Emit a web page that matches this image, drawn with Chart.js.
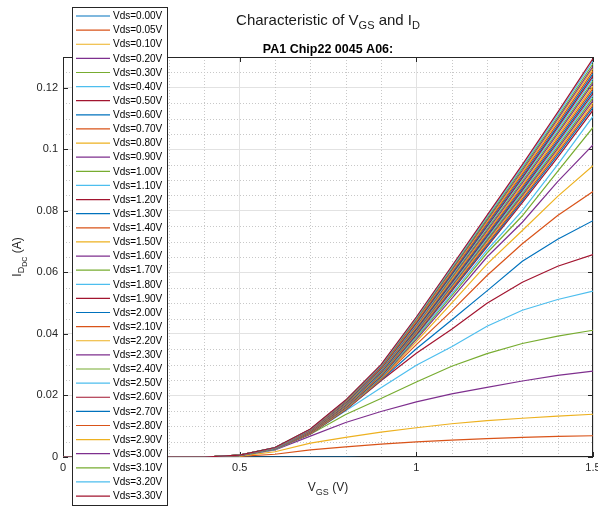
<!DOCTYPE html>
<html>
<head>
<meta charset="utf-8">
<script src="https://cdn.jsdelivr.net/npm/chart.js@4.4.0/dist/chart.umd.min.js"></script>
<style>
  html, body { margin: 0; padding: 0; background: #fff; }
  #wrap { width: 598px; height: 507px; }
</style>
</head>
<body>
<div id="wrap"><canvas id="ivChart" width="598" height="507"></canvas></div>
<script>
// gate voltage sweep (V)
const vgsVolts = [0, 0.1, 0.2, 0.3, 0.4, 0.5, 0.6, 0.7, 0.8, 0.9, 1.0, 1.1, 1.2, 1.3, 1.4, 1.5];

const vdsLabels = [
    'Vds=0.00V', 'Vds=0.05V', 'Vds=0.10V', 'Vds=0.20V', 'Vds=0.30V', 'Vds=0.40V', 'Vds=0.50V',
    'Vds=0.60V', 'Vds=0.70V', 'Vds=0.80V', 'Vds=0.90V', 'Vds=1.00V', 'Vds=1.10V', 'Vds=1.20V',
    'Vds=1.30V', 'Vds=1.40V', 'Vds=1.50V', 'Vds=1.60V', 'Vds=1.70V', 'Vds=1.80V', 'Vds=1.90V',
    'Vds=2.00V', 'Vds=2.10V', 'Vds=2.20V', 'Vds=2.30V', 'Vds=2.40V', 'Vds=2.50V', 'Vds=2.60V',
    'Vds=2.70V', 'Vds=2.80V', 'Vds=2.90V', 'Vds=3.00V', 'Vds=3.10V', 'Vds=3.20V', 'Vds=3.30V'
];

// drain current (A), one row per Vds, one column per Vgs
const idDC = [
    [0, 0, 0, 0, 0, 0, 0, 0, 0, -0.0004, -0.0006, -0.0008, -0.0010, -0.0012, -0.0014, -0.0016],
    [0, 0, 0, 0, 0, 0.0002, 0.0009, 0.0023, 0.0033, 0.0042, 0.0049, 0.0055, 0.0060, 0.0064, 0.0067, 0.0069],
    [0, 0, 0, 0, 0, 0.0003, 0.0017, 0.0045, 0.0064, 0.0081, 0.0095, 0.0108, 0.0118, 0.0126, 0.0133, 0.0139],
    [0, 0, 0, 0, 0, 0.0004, 0.0023, 0.0068, 0.0112, 0.0148, 0.0179, 0.0205, 0.0226, 0.0247, 0.0265, 0.0279],
    [0, 0, 0, 0, 0, 0.0004, 0.0025, 0.0074, 0.0138, 0.0190, 0.0244, 0.0295, 0.0336, 0.0369, 0.0393, 0.0412],
    [0, 0, 0, 0, 0, 0.0004, 0.0025, 0.0075, 0.0150, 0.0225, 0.0298, 0.0358, 0.0425, 0.0477, 0.0512, 0.0539],
    [0, 0, 0, 0, 0, 0.0005, 0.0026, 0.0075, 0.0153, 0.0248, 0.0337, 0.0415, 0.0500, 0.0568, 0.0620, 0.0658],
    [0, 0, 0, 0, 0, 0.0005, 0.0026, 0.0076, 0.0154, 0.0250, 0.0352, 0.0445, 0.0540, 0.0636, 0.0708, 0.0768],
    [0, 0, 0, 0, 0, 0.0005, 0.0026, 0.0076, 0.0155, 0.0252, 0.0365, 0.0475, 0.0590, 0.0693, 0.0785, 0.0863],
    [0, 0, 0, 0, 0, 0.0005, 0.0026, 0.0077, 0.0157, 0.0254, 0.0375, 0.0500, 0.0627, 0.0736, 0.0847, 0.0947],
    [0, 0, 0, 0, 0, 0.0005, 0.0026, 0.0078, 0.0158, 0.0256, 0.0382, 0.0515, 0.0650, 0.0763, 0.0895, 0.1014],
    [0, 0, 0, 0, 0, 0.0005, 0.0027, 0.0078, 0.0159, 0.0257, 0.0387, 0.0524, 0.0663, 0.0784, 0.0928, 0.1071],
    [0, 0, 0, 0, 0, 0.0005, 0.0027, 0.0079, 0.0160, 0.0259, 0.0391, 0.0530, 0.0672, 0.0801, 0.0950, 0.1107],
    [0, 0, 0, 0, 0, 0.0005, 0.0027, 0.0079, 0.0161, 0.0261, 0.0396, 0.0539, 0.0683, 0.0827, 0.0974, 0.1127],
    [0, 0, 0, 0, 0, 0.0005, 0.0027, 0.0080, 0.0162, 0.0263, 0.0399, 0.0544, 0.0688, 0.0833, 0.0982, 0.1136],
    [0, 0, 0, 0, 0, 0.0005, 0.0027, 0.0080, 0.0163, 0.0265, 0.0402, 0.0547, 0.0693, 0.0839, 0.0989, 0.1143],
    [0, 0, 0, 0, 0, 0.0005, 0.0028, 0.0081, 0.0164, 0.0267, 0.0404, 0.0551, 0.0698, 0.0845, 0.0996, 0.1151],
    [0, 0, 0, 0, 0, 0.0005, 0.0028, 0.0081, 0.0166, 0.0269, 0.0407, 0.0555, 0.0703, 0.0850, 0.1002, 0.1159],
    [0, 0, 0, 0, 0, 0.0005, 0.0028, 0.0082, 0.0167, 0.0270, 0.0410, 0.0559, 0.0707, 0.0856, 0.1009, 0.1167],
    [0, 0, 0, 0, 0, 0.0005, 0.0028, 0.0083, 0.0168, 0.0272, 0.0413, 0.0562, 0.0712, 0.0862, 0.1016, 0.1175],
    [0, 0, 0, 0, 0, 0.0005, 0.0028, 0.0083, 0.0169, 0.0274, 0.0415, 0.0566, 0.0717, 0.0867, 0.1023, 0.1182],
    [0, 0, 0, 0, 0, 0.0006, 0.0028, 0.0084, 0.0170, 0.0276, 0.0418, 0.0570, 0.0721, 0.0873, 0.1029, 0.1190],
    [0, 0, 0, 0, 0, 0.0006, 0.0029, 0.0084, 0.0171, 0.0278, 0.0421, 0.0574, 0.0726, 0.0879, 0.1036, 0.1198],
    [0, 0, 0, 0, 0, 0.0006, 0.0029, 0.0085, 0.0172, 0.0279, 0.0424, 0.0577, 0.0731, 0.0884, 0.1043, 0.1206],
    [0, 0, 0, 0, 0, 0.0006, 0.0029, 0.0085, 0.0174, 0.0281, 0.0427, 0.0582, 0.0736, 0.0891, 0.1051, 0.1215],
    [0, 0, 0, 0, 0, 0.0006, 0.0029, 0.0086, 0.0175, 0.0283, 0.0430, 0.0585, 0.0741, 0.0897, 0.1057, 0.1222],
    [0, 0, 0, 0, 0, 0.0006, 0.0029, 0.0086, 0.0176, 0.0285, 0.0432, 0.0589, 0.0746, 0.0903, 0.1064, 0.1230],
    [0, 0, 0, 0, 0, 0.0006, 0.0030, 0.0087, 0.0177, 0.0287, 0.0435, 0.0593, 0.0750, 0.0908, 0.1071, 0.1238],
    [0, 0, 0, 0, 0, 0.0006, 0.0030, 0.0088, 0.0178, 0.0289, 0.0438, 0.0596, 0.0755, 0.0914, 0.1077, 0.1246],
    [0, 0, 0, 0, 0, 0.0006, 0.0030, 0.0088, 0.0179, 0.0290, 0.0440, 0.0600, 0.0760, 0.0920, 0.1084, 0.1254],
    [0, 0, 0, 0, 0, 0.0006, 0.0030, 0.0089, 0.0180, 0.0293, 0.0444, 0.0605, 0.0765, 0.0926, 0.1092, 0.1263],
    [0, 0, 0, 0, 0, 0.0006, 0.0030, 0.0089, 0.0181, 0.0294, 0.0446, 0.0608, 0.0770, 0.0932, 0.1099, 0.1270],
    [0, 0, 0, 0, 0, 0.0006, 0.0031, 0.0090, 0.0183, 0.0296, 0.0449, 0.0612, 0.0775, 0.0938, 0.1105, 0.1278],
    [0, 0, 0, 0, 0, 0.0006, 0.0031, 0.0090, 0.0184, 0.0298, 0.0452, 0.0616, 0.0780, 0.0944, 0.1113, 0.1287],
    [0, 0, 0, 0, 0, 0.0006, 0.0031, 0.0091, 0.0185, 0.0300, 0.0455, 0.0620, 0.0785, 0.0950, 0.1120, 0.1295]
];

const xTicks = [0, 0.5, 1, 1.5];
const yTicks = [0, 0.02, 0.04, 0.06, 0.08, 0.1, 0.12];

// matlab default line colour order
const lineColors = ['#0072BD', '#D95319', '#EDB120', '#7E2F8E', '#77AC30', '#4DBEEE', '#A2142F'];

const FONT = '"Liberation Sans", Arial, Helvetica, sans-serif';
const INK = '#262626';

function richText(ctx, parts, x, y) {
    // parts: [text, size, dy, weight]
    let total = 0;
    parts.forEach(p => {
        ctx.font = (p[3] || 'normal') + ' ' + p[1] + 'px ' + FONT;
        total += ctx.measureText(p[0]).width;
    });
    let cx = x - total / 2;
    parts.forEach(p => {
        ctx.font = (p[3] || 'normal') + ' ' + p[1] + 'px ' + FONT;
        ctx.fillText(p[0], cx, y + p[2]);
        cx += ctx.measureText(p[0]).width;
    });
}

const matlabLook = {
    id: 'matlabLook',
    beforeDatasetsDraw(chart) {
        const ctx = chart.ctx;
        const a = chart.chartArea;
        const xs = chart.scales.x, ys = chart.scales.y;
        ctx.save();
        // minor grid
        ctx.strokeStyle = '#c8c8c8';
        ctx.lineWidth = 1;
        ctx.setLineDash([1, 2]);
        for (let k = 1; k < 15; k++) {
            if (k % 5 === 0) continue;
            const px = Math.round(xs.getPixelForValue(k / 10)) + 0.5;
            ctx.beginPath(); ctx.moveTo(px, a.top); ctx.lineTo(px, a.bottom); ctx.stroke();
        }
        for (let k = 1; k <= 26; k++) {
            if (k % 4 === 0) continue;
            const py = Math.round(ys.getPixelForValue(k * 0.005)) + 0.5;
            if (py <= a.top + 1) continue;
            ctx.beginPath(); ctx.moveTo(a.left, py); ctx.lineTo(a.right, py); ctx.stroke();
        }
        ctx.setLineDash([]);
        // axes box
        ctx.strokeStyle = INK;
        ctx.strokeRect(Math.round(a.left) + 0.5, Math.round(a.top) + 0.5,
            Math.round(a.right - a.left) - 1, Math.round(a.bottom - a.top) - 1);
        // inward ticks
        const tl = 5;
        ctx.beginPath();
        xTicks.forEach(v => {
            const px = Math.round(xs.getPixelForValue(v)) + 0.5;
            ctx.moveTo(px, a.bottom); ctx.lineTo(px, a.bottom - tl);
            ctx.moveTo(px, a.top); ctx.lineTo(px, a.top + tl);
        });
        yTicks.forEach(v => {
            const py = Math.round(ys.getPixelForValue(v)) + 0.5;
            ctx.moveTo(a.left, py); ctx.lineTo(a.left + tl, py);
            ctx.moveTo(a.right, py); ctx.lineTo(a.right - tl, py);
        });
        ctx.stroke();
        ctx.restore();
    },
    afterDraw(chart) {
        const ctx = chart.ctx;
        const a = chart.chartArea;
        const midX = (a.left + a.right) / 2;
        const midY = (a.top + a.bottom) / 2;
        ctx.save();
        ctx.textBaseline = 'alphabetic';
        ctx.textAlign = 'left';

        ctx.fillStyle = '#1a1a1a';
        richText(ctx, [['Characteristic of V', 15, 0], ['GS', 11, 4], [' and I', 15, 0], ['D', 11, 4]], midX, 25);
        ctx.fillStyle = '#000';
        richText(ctx, [['PA1 Chip22 0045 A06:', 12.5, 0, 'bold']], midX, 53);

        ctx.fillStyle = INK;
        richText(ctx, [['V', 12, 0], ['GS', 9, 4], [' (V)', 12, 0]], midX, 491);

        ctx.save();
        ctx.translate(21, midY);
        ctx.rotate(-Math.PI / 2);
        richText(ctx, [['I', 12, 0], ['D', 9, 3], ['DC', 7, 6], [' (A)', 12, 0]], 0, 0);
        ctx.restore();

        // legend box
        const lx = 72, ly = 7, lw = 95, lh = 498;
        ctx.fillStyle = '#fff';
        ctx.fillRect(lx, ly, lw, lh);
        ctx.strokeStyle = INK;
        ctx.lineWidth = 1;
        ctx.strokeRect(lx + 0.5, ly + 0.5, lw, lh);
        ctx.font = '10px ' + FONT;
        ctx.textBaseline = 'middle';
        chart.data.datasets.forEach((ds, i) => {
            const y = 16 + i * 14.12;
            ctx.strokeStyle = ds.borderColor;
            ctx.lineWidth = 1.2;
            ctx.beginPath(); ctx.moveTo(76, y); ctx.lineTo(110, y); ctx.stroke();
            ctx.fillStyle = '#000';
            ctx.fillText(ds.label, 113, y + 0.5);
        });
        ctx.restore();
    }
};

const datasets = vdsLabels.map((label, i) => ({
    label: label,
    data: vgsVolts.map((v, j) => ({ x: v, y: idDC[i][j] })),
    borderColor: lineColors[i % lineColors.length],
    borderWidth: 1.2,
    pointRadius: 0,
    tension: 0,
    fill: false,
    order: vdsLabels.length - i
}));

new Chart(document.getElementById('ivChart'), {
    type: 'line',
    data: { datasets: datasets },
    options: {
        responsive: false,
        animation: false,
        devicePixelRatio: 1,
        layout: { padding: { top: 57, right: 5, left: 0, bottom: 0 } },
        plugins: {
            legend: { display: false },
            title: { display: false },
            tooltip: { enabled: false }
        },
        scales: {
            x: {
                type: 'linear',
                min: 0,
                max: 1.5,
                afterFit: s => { s.height = 50; s.paddingLeft = 0; s.paddingRight = 0; },
                border: { display: false },
                grid: { color: '#e2e2e2', drawTicks: false },
                ticks: {
                    stepSize: 0.5,
                    includeBounds: false,
                    maxRotation: 0,
                    padding: 4,
                    color: INK,
                    font: { family: FONT, size: 11 },
                    callback: v => String(+v.toFixed(2))
                }
            },
            y: {
                type: 'linear',
                min: 0,
                max: 0.13,
                afterFit: s => { s.width = 63; s.paddingTop = 0; s.paddingBottom = 0; },
                border: { display: false },
                grid: { color: '#e2e2e2', drawTicks: false },
                ticks: {
                    stepSize: 0.02,
                    includeBounds: false,
                    padding: 5,
                    color: INK,
                    font: { family: FONT, size: 11 },
                    callback: v => String(+v.toFixed(2))
                }
            }
        }
    },
    plugins: [matlabLook]
});
</script>
</body>
</html>
